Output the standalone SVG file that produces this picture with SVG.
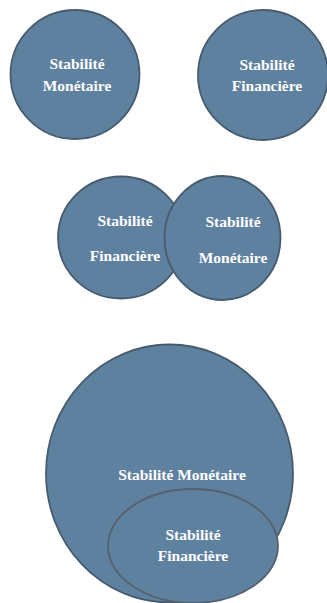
<svg xmlns="http://www.w3.org/2000/svg" width="327" height="603" viewBox="0 0 327 603">
<style>
.c{fill:#5f81a0;stroke:#475b6e;stroke-width:1.8}
.t{font-family:"Liberation Serif","Times New Roman",serif;font-weight:bold;font-size:15.5px;fill:#ffffff;text-anchor:middle}
</style>
<rect width="327" height="603" fill="#ffffff"/>
<g id="top-monetaire">
<circle class="c" cx="75" cy="74.5" r="64.5"/>
<text class="t" x="77" y="69">Stabilité</text>
<text class="t" x="77" y="91">Monétaire</text>
</g>
<g id="top-financiere">
<circle class="c" cx="263" cy="75" r="65"/>
<text class="t" x="267" y="70">Stabilité</text>
<text class="t" x="267" y="91">Financière</text>
</g>
<g id="mid-financiere">
<ellipse class="c" cx="121" cy="237.5" rx="63" ry="61"/>
<text class="t" x="125" y="226">Stabilité</text>
<text class="t" x="125" y="261">Financière</text>
</g>
<g id="mid-monetaire">
<ellipse class="c" cx="222.5" cy="238" rx="58" ry="62"/>
<text class="t" x="233" y="227">Stabilité</text>
<text class="t" x="233" y="263">Monétaire</text>
</g>
<g id="big-monetaire">
<ellipse class="c" cx="169.5" cy="473.5" rx="123.5" ry="129"/>
<text class="t" x="182" y="480">Stabilité Monétaire</text>
</g>
<g id="inner-financiere">
<ellipse class="c" cx="193" cy="546" rx="85" ry="57" style="stroke:#55626e"/>
<text class="t" x="193" y="540">Stabilité</text>
<text class="t" x="193" y="561">Financière</text>
</g>
<g id="connectors"></g>
</svg>
